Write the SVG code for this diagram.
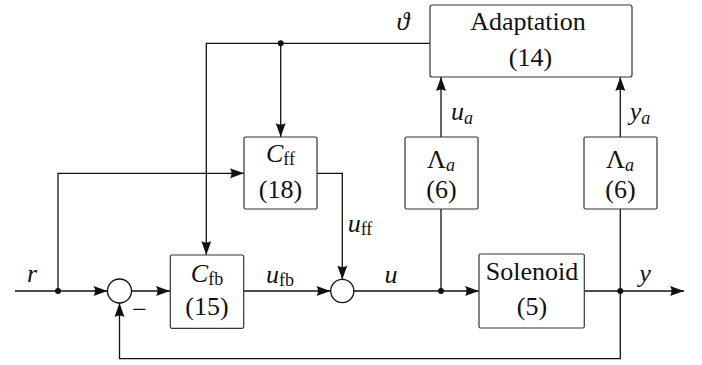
<svg xmlns="http://www.w3.org/2000/svg" width="702" height="365" viewBox="0 0 702 365">
<style>
.box{fill:#fff;stroke:#333;stroke-width:1.2}
.ln{fill:none;stroke:#111;stroke-width:1.3}
.arr{marker-end:url(#ah)}
.t{font-family:'Liberation Serif',serif;font-size:26px;fill:#111;text-anchor:middle}
.m{font-style:italic}
.sr{font-style:normal;font-size:18px}
.si{font-style:italic;font-size:18px}
.dot{fill:#111}
</style>
<defs>
<marker id="ah" viewBox="-15 -6 16 12" refX="0" refY="0" markerWidth="16" markerHeight="12" markerUnits="userSpaceOnUse" orient="auto">
<path d="M0,0 L-14,-5 Q-11,0 -14,5 Z" fill="#111"/>
</marker>
</defs>
<g id="connectors">
<path class="ln arr" d="M15,291 H107.5"/>
<path class="ln arr" d="M58,291 V173.3 H244"/>
<path class="ln arr" d="M131.5,291 H170"/>
<path class="ln arr" d="M244,291 H330.5"/>
<path class="ln arr" d="M317,173.3 H342.3 V279.5"/>
<path class="ln arr" d="M353.8,291 H479"/>
<path class="ln" d="M441,291 V209"/>
<path class="ln arr" d="M441,137 V77"/>
<path class="ln arr" d="M584,291 H684"/>
<path class="ln" d="M620.3,291 V209"/>
<path class="ln arr" d="M620.3,137 V77"/>
<path class="ln arr" d="M620.3,291 V358.7 H119.5 V303"/>
<path class="ln arr" d="M430,43.3 H206.3 V255"/>
<path class="ln arr" d="M280.7,43.3 V137"/>
<circle class="dot" cx="58" cy="291" r="3"/>
<circle class="dot" cx="441" cy="291" r="3"/>
<circle class="dot" cx="620.3" cy="291" r="3"/>
<circle class="dot" cx="280.7" cy="43.3" r="3"/>
<text class="t m" x="32" y="282">r</text>
<text class="t" x="139.5" y="318">−</text>
<text class="t m" x="280" y="283">u<tspan class="sr" dy="3">fb</tspan></text>
<text class="t m" x="360" y="232">u<tspan class="sr" dy="3">ff</tspan></text>
<text class="t m" x="391" y="283">u</text>
<text class="t m" x="645" y="282">y</text>
<text class="t m" x="462" y="120">u<tspan class="si" dy="4">a</tspan></text>
<text class="t m" x="640" y="120">y<tspan class="si" dy="4">a</tspan></text>
<text class="t m" x="403" y="30">ϑ</text>
</g>
<g id="sum1"><circle cx="119.5" cy="291" r="12" fill="#fff" stroke="#111" stroke-width="1.3"/></g>
<g id="sum2"><circle cx="342.3" cy="291" r="11.6" fill="#fff" stroke="#111" stroke-width="1.3"/></g>
<g id="adaptation">
<rect class="box" x="430" y="5" width="202" height="72" rx="2"/>
<text class="t" x="528" y="30">Adaptation</text>
<text class="t" x="530.5" y="66">(14)</text>
</g>
<g id="cff">
<rect class="box" x="244" y="137" width="73" height="72" rx="1.5"/>
<text class="t m" x="280.5" y="162">C<tspan class="sr" dy="3">ff</tspan></text>
<text class="t" x="280.5" y="198">(18)</text>
</g>
<g id="cfb">
<rect class="box" x="170.3" y="255" width="73.4" height="73.3" rx="1.5"/>
<text class="t m" x="207" y="282">C<tspan class="sr" dy="3">fb</tspan></text>
<text class="t" x="207" y="315">(15)</text>
</g>
<g id="lambda1">
<rect class="box" x="405" y="137" width="73" height="72" rx="1.5"/>
<text class="t" x="441" y="168">Λ<tspan class="si" dy="3">a</tspan></text>
<text class="t" x="441.5" y="198">(6)</text>
</g>
<g id="lambda2">
<rect class="box" x="584" y="137" width="73" height="72" rx="1.5"/>
<text class="t" x="620" y="168">Λ<tspan class="si" dy="3">a</tspan></text>
<text class="t" x="620.5" y="198">(6)</text>
</g>
<g id="solenoid">
<rect class="box" x="479" y="254" width="105.3" height="74" rx="1.5"/>
<text class="t" x="532" y="280">Solenoid</text>
<text class="t" x="532" y="315">(5)</text>
</g>
</svg>
